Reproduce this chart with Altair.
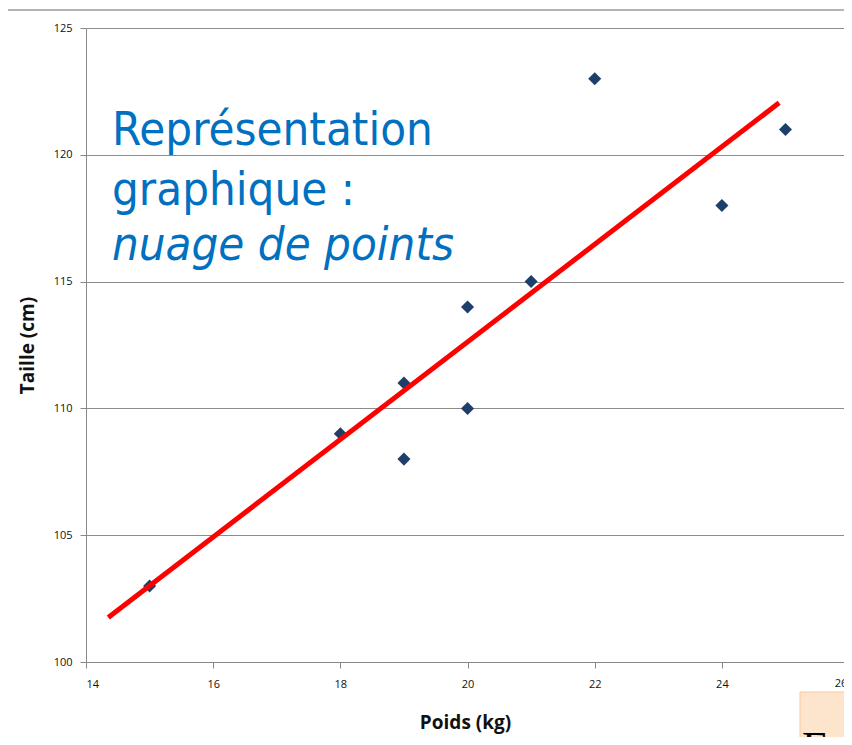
import altair as alt
import pandas as pd

# ---- data ----
poids = [15, 18, 19, 19, 20, 20, 21, 22, 24, 25]
taille = [103, 109, 111, 108, 114, 110, 115, 123, 118, 121]
x_ticks = [14, 16, 18, 20, 22, 24]
x_last_tick = ["26"]
y_ticks = [100, 105, 110, 115, 120, 125]
trend_extent = [14.35, 24.9]
title_lines = ["Représentation", "graphique :", "nuage de points"]
corner_text = ["Fo"]

df = pd.DataFrame({"Poids": poids, "Taille": taille})

W, H = 758, 634
xs = alt.Scale(domain=[14, 25.92], nice=False, zero=False)
ys = alt.Scale(domain=[100, 125], nice=False, zero=False)

x_axis = alt.Axis(
    values=x_ticks, format="d", title="Poids (kg)", grid=False,
    domainColor="#888888", tickColor="#888888", tickSize=6,
    labelFont="Open Sans", labelFontSize=11, labelColor="#111111", labelPadding=10,
    titleFont="Open Sans", titleFontSize=19, titleFontWeight="bold", titleColor="#111111",
    titlePadding=24,
)
y_axis = alt.Axis(
    values=y_ticks, format="d", title="Taille (cm)", grid=True, gridColor="#8c8c8c", gridWidth=1,
    domainColor="#888888", tickColor="#888888", tickSize=6,
    labelFont="Open Sans", labelFontSize=11, labelColor="#111111", labelPadding=8,
    titleFont="Open Sans", titleFontSize=19, titleFontWeight="bold", titleColor="#111111",
    titlePadding=16,
)

base = alt.Chart(df)

points = base.mark_point(shape="diamond", filled=True, color="#1f3f6b", size=170, opacity=1).encode(
    x=alt.X("Poids:Q", scale=xs, axis=x_axis),
    y=alt.Y("Taille:Q", scale=ys, axis=y_axis),
)

trend = base.transform_regression("Poids", "Taille", extent=trend_extent).mark_line(
    color="#ff0000", strokeWidth=5, strokeCap="butt"
).encode(
    x=alt.X("Poids:Q", scale=xs),
    y=alt.Y("Taille:Q", scale=ys),
)

# last x tick label, cut by the right edge as in the reference
last_lab = alt.Chart(pd.DataFrame({"t": x_last_tick})).mark_text(
    align="center", baseline="top", font="Open Sans", fontSize=11, color="#111111",
    x=W - 3, y=H + 16, clip=False,
).encode(text="t:N")

top_line = alt.Chart(pd.DataFrame({"a": [0]})).mark_rule(
    color="#b4b4b4", strokeWidth=2, clip=False
).encode(x=alt.value(-78), x2=alt.value(W + 5), y=alt.value(-18))

tl = pd.DataFrame({"t": title_lines, "yy": [117, 177, 232]})
txt_norm = alt.Chart(tl.iloc[:2]).mark_text(
    align="left", baseline="alphabetic", font="DejaVu Sans Condensed", fontSize=47,
    color="#0070c0", x=26,
).encode(text="t:N", y=alt.Y("yy:Q", scale=None))
txt_ital = alt.Chart(tl.iloc[2:]).mark_text(
    align="left", baseline="alphabetic", font="DejaVu Sans Condensed", fontSize=47,
    fontStyle="italic", color="#0070c0", x=26,
).encode(text="t:N", y=alt.Y("yy:Q", scale=None))

corner_box = alt.Chart(pd.DataFrame({"a": [0]})).mark_rect(
    fill="#fde4cc", stroke="#f9caa0", strokeWidth=1, clip=False
).encode(x=alt.value(714), x2=alt.value(790), y=alt.value(664), y2=alt.value(740))
corner_txt = alt.Chart(pd.DataFrame({"t": corner_text})).mark_text(
    align="left", baseline="alphabetic", font="Liberation Serif", fontSize=44,
    color="#000000", x=716, y=734,
).encode(text="t:N")

chart = alt.layer(top_line, points, trend, last_lab, txt_norm, txt_ital, corner_box, corner_txt).properties(
    width=W, height=H,
    autosize=alt.AutoSizeParams(type="none"),
    padding={"left": 78, "top": 20, "right": 0, "bottom": 75},
    background="white",
).configure_view(stroke=None)

chart.save("out.html", embed_options={"renderer": "svg", "actions": False})
